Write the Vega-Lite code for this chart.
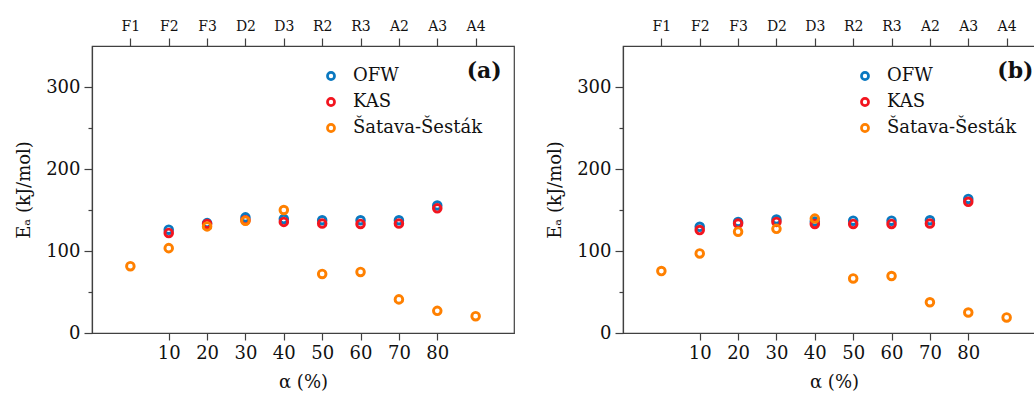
{
  "$schema": "https://vega.github.io/schema/vega-lite/v6.json",
  "padding": {"left": 15, "top": 18, "right": 0, "bottom": 0},
  "bounds": "flush",
  "spacing": 109,
  "config": {
    "view": {"stroke": "#404040", "strokeWidth": 1.2},
    "font": "DejaVu Serif",
    "axis": {
      "grid": false,
      "domainColor": "#404040",
      "tickColor": "#404040",
      "domainWidth": 1.2,
      "tickWidth": 1.2,
      "labelColor": "#111111",
      "titleColor": "#111111",
      "labelFont": "DejaVu Serif",
      "titleFont": "DejaVu Serif",
      "labelFontSize": 18,
      "titleFontSize": 18,
      "titleFontWeight": "normal"
    },
    "legend": {
      "labelFont": "DejaVu Serif",
      "labelFontSize": 18,
      "labelColor": "#111111",
      "padding": 0
    }
  },
  "datasets": {
    "d": [
      {"panel": "a", "method": "OFW", "alpha": 10, "Ea": 126},
      {"panel": "a", "method": "OFW", "alpha": 20, "Ea": 134},
      {"panel": "a", "method": "OFW", "alpha": 30, "Ea": 141},
      {"panel": "a", "method": "OFW", "alpha": 40, "Ea": 139},
      {"panel": "a", "method": "OFW", "alpha": 50, "Ea": 137.5},
      {"panel": "a", "method": "OFW", "alpha": 60, "Ea": 137.5},
      {"panel": "a", "method": "OFW", "alpha": 70, "Ea": 137.5},
      {"panel": "a", "method": "OFW", "alpha": 80, "Ea": 155.5},
      {"panel": "a", "method": "KAS", "alpha": 10, "Ea": 122},
      {"panel": "a", "method": "KAS", "alpha": 20, "Ea": 133},
      {"panel": "a", "method": "KAS", "alpha": 30, "Ea": 137.5},
      {"panel": "a", "method": "KAS", "alpha": 40, "Ea": 135.5},
      {"panel": "a", "method": "KAS", "alpha": 50, "Ea": 133.5},
      {"panel": "a", "method": "KAS", "alpha": 60, "Ea": 133},
      {"panel": "a", "method": "KAS", "alpha": 70, "Ea": 133.5},
      {"panel": "a", "method": "KAS", "alpha": 80, "Ea": 152},
      {"panel": "a", "method": "Šatava-Šesták", "alpha": 0, "Ea": 81.5},
      {"panel": "a", "method": "Šatava-Šesták", "alpha": 10, "Ea": 103.5},
      {"panel": "a", "method": "Šatava-Šesták", "alpha": 20, "Ea": 130},
      {"panel": "a", "method": "Šatava-Šesták", "alpha": 30, "Ea": 137},
      {"panel": "a", "method": "Šatava-Šesták", "alpha": 40, "Ea": 150},
      {"panel": "a", "method": "Šatava-Šesták", "alpha": 50, "Ea": 72},
      {"panel": "a", "method": "Šatava-Šesták", "alpha": 60, "Ea": 74.5},
      {"panel": "a", "method": "Šatava-Šesták", "alpha": 70, "Ea": 41},
      {"panel": "a", "method": "Šatava-Šesták", "alpha": 80, "Ea": 27},
      {"panel": "a", "method": "Šatava-Šesták", "alpha": 90, "Ea": 20.5},
      {"panel": "b", "method": "OFW", "alpha": 10, "Ea": 129.5},
      {"panel": "b", "method": "OFW", "alpha": 20, "Ea": 135.5},
      {"panel": "b", "method": "OFW", "alpha": 30, "Ea": 138.5},
      {"panel": "b", "method": "OFW", "alpha": 40, "Ea": 136},
      {"panel": "b", "method": "OFW", "alpha": 50, "Ea": 137},
      {"panel": "b", "method": "OFW", "alpha": 60, "Ea": 137},
      {"panel": "b", "method": "OFW", "alpha": 70, "Ea": 137.5},
      {"panel": "b", "method": "OFW", "alpha": 80, "Ea": 163.5},
      {"panel": "b", "method": "KAS", "alpha": 10, "Ea": 125.5},
      {"panel": "b", "method": "KAS", "alpha": 20, "Ea": 133.5},
      {"panel": "b", "method": "KAS", "alpha": 30, "Ea": 135.5},
      {"panel": "b", "method": "KAS", "alpha": 40, "Ea": 133},
      {"panel": "b", "method": "KAS", "alpha": 50, "Ea": 133},
      {"panel": "b", "method": "KAS", "alpha": 60, "Ea": 133},
      {"panel": "b", "method": "KAS", "alpha": 70, "Ea": 133.5},
      {"panel": "b", "method": "KAS", "alpha": 80, "Ea": 160},
      {"panel": "b", "method": "Šatava-Šesták", "alpha": 0, "Ea": 75.5},
      {"panel": "b", "method": "Šatava-Šesták", "alpha": 10, "Ea": 97},
      {"panel": "b", "method": "Šatava-Šesták", "alpha": 20, "Ea": 123.5},
      {"panel": "b", "method": "Šatava-Šesták", "alpha": 30, "Ea": 127},
      {"panel": "b", "method": "Šatava-Šesták", "alpha": 40, "Ea": 139.5},
      {"panel": "b", "method": "Šatava-Šesták", "alpha": 50, "Ea": 66.5},
      {"panel": "b", "method": "Šatava-Šesták", "alpha": 60, "Ea": 69.5},
      {"panel": "b", "method": "Šatava-Šesták", "alpha": 70, "Ea": 37.5},
      {"panel": "b", "method": "Šatava-Šesták", "alpha": 80, "Ea": 25},
      {"panel": "b", "method": "Šatava-Šesták", "alpha": 90, "Ea": 19}
    ]
  },
  "resolve": {"scale": {"color": "independent", "x": "independent", "y": "independent"}},
  "hconcat": [
    {
      "width": 422,
      "height": 287,
      "layer": [
        {
          "data": {"name": "d"},
          "transform": [{"filter": "datum.panel == 'a'"}],
          "mark": {"type": "point", "filled": false, "strokeWidth": 2.9, "size": 58, "opacity": 1},
          "encoding": {
            "x": {"field": "alpha", "type": "quantitative", "scale": {"domain": [-10, 100], "nice": false, "zero": false},
              "axis": {"orient": "bottom", "values": [10, 20, 30, 40, 50, 60, 70, 80], "title": "α (%)", "tickSize": 7, "labelPadding": 4, "titlePadding": 11}},
            "y": {"field": "Ea", "type": "quantitative", "scale": {"domain": [0, 350], "nice": false},
              "axis": {"values": [0, 100, 200, 300], "title": "Eₐ (kJ/mol)", "tickSize": 8, "labelPadding": 4, "titlePadding": 12}},
            "color": {"field": "method", "type": "nominal",
              "scale": {"domain": ["OFW", "KAS", "Šatava-Šesták"], "range": ["#0a78c0", "#f2151f", "#ff8000"]},
              "legend": {"orient": "none", "legendX": 230, "legendY": 21, "title": null, "symbolType": "circle", "symbolSize": 50, "symbolStrokeWidth": 2.7, "symbolFillColor": "transparent", "labelOffset": 13, "rowPadding": 8}}
          }
        },
        {
          "data": {"values": [{}]},
          "mark": {"type": "text", "align": "right", "baseline": "middle", "fontSize": 22, "fontWeight": "bold", "font": "DejaVu Serif", "color": "#111111"},
          "encoding": {
            "x": {"datum": 96.8, "axis": {"orient": "top", "values": [0, 10, 20, 30, 40, 50, 60, 70, 80, 90], "labelExpr": "['F1','F2','F3','D2','D3','R2','R3','A2','A3','A4'][round(datum.value/10)]", "labelFontSize": 14, "tickSize": 8, "labelPadding": 5, "title": null, "domain": false}},
            "y": {"datum": 320, "axis": {"orient": "left", "values": [50, 150, 250], "labels": false, "tickSize": 4, "domain": false, "title": null}},
            "text": {"value": "(a)"}
          }
        }
      ],
      "resolve": {"axis": {"x": "independent", "y": "independent"}}
    },
    {
      "width": 422,
      "height": 287,
      "layer": [
        {
          "data": {"name": "d"},
          "transform": [{"filter": "datum.panel == 'b'"}],
          "mark": {"type": "point", "filled": false, "strokeWidth": 2.9, "size": 58, "opacity": 1},
          "encoding": {
            "x": {"field": "alpha", "type": "quantitative", "scale": {"domain": [-10, 100], "nice": false, "zero": false},
              "axis": {"orient": "bottom", "values": [10, 20, 30, 40, 50, 60, 70, 80], "title": "α (%)", "tickSize": 7, "labelPadding": 4, "titlePadding": 11}},
            "y": {"field": "Ea", "type": "quantitative", "scale": {"domain": [0, 350], "nice": false},
              "axis": {"values": [0, 100, 200, 300], "title": "Eₐ (kJ/mol)", "tickSize": 8, "labelPadding": 4, "titlePadding": 12}},
            "color": {"field": "method", "type": "nominal",
              "scale": {"domain": ["OFW", "KAS", "Šatava-Šesták"], "range": ["#0a78c0", "#f2151f", "#ff8000"]},
              "legend": {"orient": "none", "legendX": 233, "legendY": 21, "title": null, "symbolType": "circle", "symbolSize": 50, "symbolStrokeWidth": 2.7, "symbolFillColor": "transparent", "labelOffset": 13, "rowPadding": 8}}
          }
        },
        {
          "data": {"values": [{}]},
          "mark": {"type": "text", "align": "right", "baseline": "middle", "fontSize": 22, "fontWeight": "bold", "font": "DejaVu Serif", "color": "#111111"},
          "encoding": {
            "x": {"datum": 97, "axis": {"orient": "top", "values": [0, 10, 20, 30, 40, 50, 60, 70, 80, 90], "labelExpr": "['F1','F2','F3','D2','D3','R2','R3','A2','A3','A4'][round(datum.value/10)]", "labelFontSize": 14, "tickSize": 8, "labelPadding": 5, "title": null, "domain": false}},
            "y": {"datum": 320, "axis": {"orient": "left", "values": [50, 150, 250], "labels": false, "tickSize": 4, "domain": false, "title": null}},
            "text": {"value": "(b)"}
          }
        }
      ],
      "resolve": {"axis": {"x": "independent", "y": "independent"}}
    }
  ]
}
